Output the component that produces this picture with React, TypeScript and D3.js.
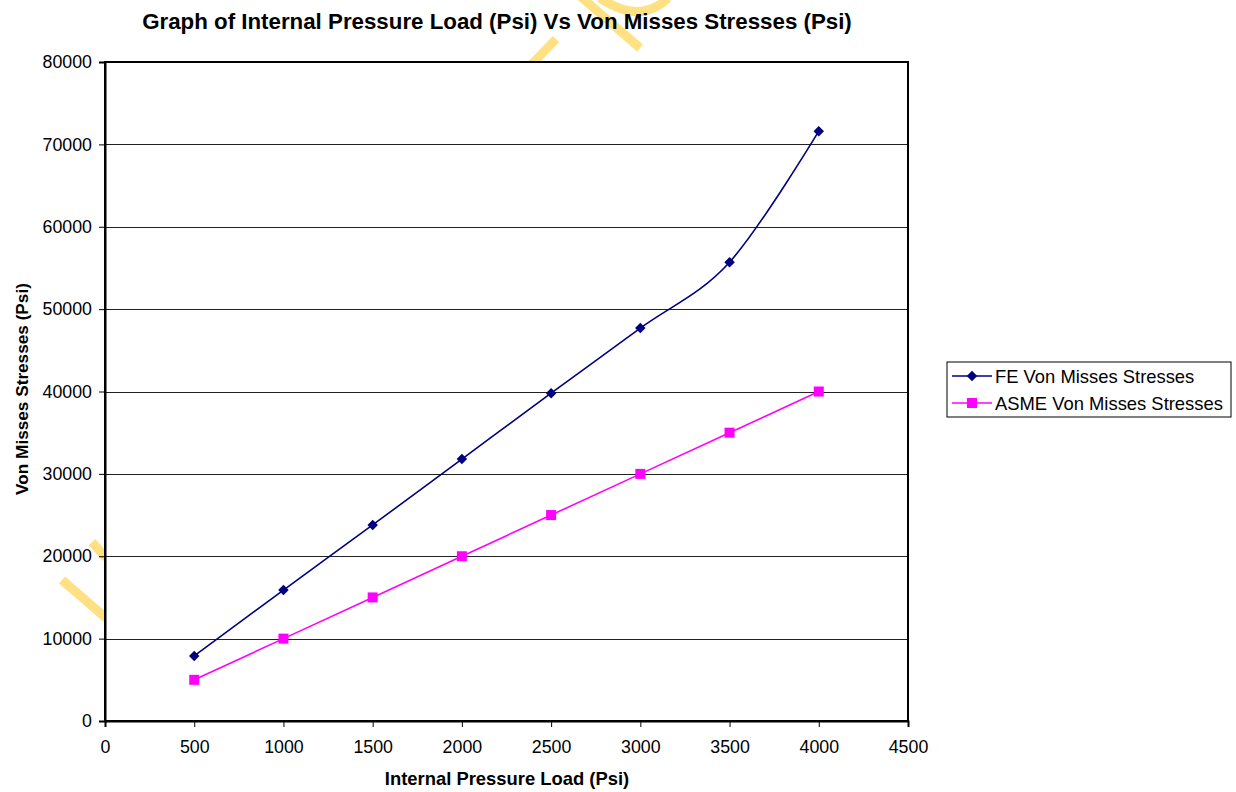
import React, { useEffect, useRef } from "react";
import * as d3 from "d3";

// data
const pressures = [500, 1000, 1500, 2000, 2500, 3000, 3500, 4000];
const feStress = [7900, 15900, 23800, 31800, 39800, 47700, 55700, 71600];
const asmeStress = [5000, 10000, 15000, 20000, 25000, 30000, 35000, 40000];
const xTicks = [0, 500, 1000, 1500, 2000, 2500, 3000, 3500, 4000, 4500];
const yTicks = [0, 10000, 20000, 30000, 40000, 50000, 60000, 70000, 80000];
const seriesNames = ["FE Von Misses Stresses", "ASME Von Misses Stresses"];

const FONT = "'Liberation Sans', Arial, sans-serif";

const App: React.FC = () => {
  const svgRef = useRef<SVGSVGElement>(null);

  useEffect(() => {
    if (!svgRef.current) return;
    const width = 1236;
    const height = 792;
    const margin = { top: 62, right: 328, bottom: 71, left: 105 };
    const innerW = width - margin.left - margin.right;
    const innerH = height - margin.top - margin.bottom;

    const svg = d3.select(svgRef.current);
    svg.selectAll("*").remove();
    svg.attr("width", width).attr("height", height);

    svg.append("rect").attr("width", width).attr("height", height).attr("fill", "#fff");

    // faint watermark fragments in the background
    const wm = svg.append("g").attr("stroke", "#FFE083").attr("stroke-width", 9).attr("fill", "none");
    wm.append("line").attr("x1", 530).attr("y1", 66).attr("x2", 556).attr("y2", 39);
    wm.append("line").attr("x1", 580).attr("y1", -4).attr("x2", 640).attr("y2", 48);
    wm.append("path").attr("d", "M600,-2 Q640,25 668,-2");
    wm.append("line").attr("x1", 92).attr("y1", 542).attr("x2", 106).attr("y2", 558);
    wm.append("line").attr("x1", 62).attr("y1", 580).attr("x2", 106).attr("y2", 618);

    const x = d3.scaleLinear().domain([0, 4500]).range([0, innerW]);
    const y = d3.scaleLinear().domain([0, 80000]).range([innerH, 0]);

    const g = svg.append("g").attr("transform", `translate(${margin.left},${margin.top})`);

    g.append("rect").attr("width", innerW).attr("height", innerH).attr("fill", "#fff");

    // gridlines
    g.append("g")
      .selectAll("line")
      .data(yTicks.filter(t => t > 0 && t < 80000))
      .enter()
      .append("line")
      .attr("x1", 0)
      .attr("x2", innerW)
      .attr("y1", d => Math.round(y(d)) + 0.5)
      .attr("y2", d => Math.round(y(d)) + 0.5)
      .attr("stroke", "#222")
      .attr("stroke-width", 1);

    // frame
    g.append("rect")
      .attr("width", innerW)
      .attr("height", innerH)
      .attr("fill", "none")
      .attr("stroke", "#000")
      .attr("stroke-width", 2);

    // axes
    const xAxis = g.append("g")
      .attr("transform", `translate(0,${innerH})`)
      .call(d3.axisBottom(x).tickValues(xTicks).tickSize(6).tickPadding(13).tickFormat(d3.format("d")));
    const yAxis = g.append("g")
      .call(d3.axisLeft(y).tickValues(yTicks).tickSize(6).tickPadding(7).tickFormat(d3.format("d")));
    [xAxis, yAxis].forEach(a => {
      a.attr("font-size", null).attr("font-family", null);
      a.select(".domain").attr("stroke", "#000").attr("stroke-width", 2);
      a.selectAll(".tick line").attr("stroke", "#000");
      a.selectAll(".tick text")
        .attr("fill", "#000")
        .style("font-family", FONT)
        .style("font-size", "17.8px");
    });

    const curve = d3.curveCardinal.tension(0);

    const feData = pressures.map((p, i) => [p, feStress[i]] as [number, number]);
    const asmeData = pressures.map((p, i) => [p, asmeStress[i]] as [number, number]);

    const line = d3.line<[number, number]>()
      .x(d => x(d[0]))
      .y(d => y(d[1]))
      .curve(curve);

    g.append("path")
      .attr("d", line(asmeData))
      .attr("fill", "none")
      .attr("stroke", "#FF00FF")
      .attr("stroke-width", 1.6);
    g.selectAll(".sq")
      .data(asmeData)
      .enter()
      .append("rect")
      .attr("x", d => x(d[0]) - 5)
      .attr("y", d => y(d[1]) - 5)
      .attr("width", 10)
      .attr("height", 10)
      .attr("fill", "#FF00FF");

    g.append("path")
      .attr("d", line(feData))
      .attr("fill", "none")
      .attr("stroke", "#000080")
      .attr("stroke-width", 1.6);
    const diamond = d3.symbol().type(d3.symbolDiamond2).size(70);
    g.selectAll(".dm")
      .data(feData)
      .enter()
      .append("path")
      .attr("d", diamond()!)
      .attr("transform", d => `translate(${x(d[0])},${y(d[1])})`)
      .attr("fill", "#000080");

    // titles
    svg.append("text")
      .attr("x", 497)
      .attr("y", 29)
      .attr("text-anchor", "middle")
      .style("font-family", FONT)
      .style("font-size", "22.3px")
      .style("font-weight", "bold")
      .text("Graph of Internal Pressure Load (Psi) Vs Von Misses Stresses (Psi)");

    svg.append("text")
      .attr("x", 507)
      .attr("y", 785)
      .attr("text-anchor", "middle")
      .style("font-family", FONT)
      .style("font-size", "18.4px")
      .style("font-weight", "bold")
      .text("Internal Pressure Load (Psi)");

    svg.append("text")
      .attr("transform", `translate(28,389) rotate(-90)`)
      .attr("text-anchor", "middle")
      .style("font-family", FONT)
      .style("font-size", "17.2px")
      .style("font-weight", "bold")
      .text("Von Misses Stresses (Psi)");

    // legend
    const lg = svg.append("g").attr("transform", "translate(947,362)");
    lg.append("rect")
      .attr("width", 284)
      .attr("height", 55)
      .attr("fill", "#fff")
      .attr("stroke", "#000")
      .attr("stroke-width", 1);
    const colors = ["#000080", "#FF00FF"];
    seriesNames.forEach((name, i) => {
      const cy = 14 + i * 27;
      lg.append("line")
        .attr("x1", 5)
        .attr("x2", 45)
        .attr("y1", cy)
        .attr("y2", cy)
        .attr("stroke", colors[i])
        .attr("stroke-width", 1.6);
      if (i === 0) {
        lg.append("path")
          .attr("d", diamond()!)
          .attr("transform", `translate(25,${cy})`)
          .attr("fill", colors[i]);
      } else {
        lg.append("rect")
          .attr("x", 20)
          .attr("y", cy - 5)
          .attr("width", 10)
          .attr("height", 10)
          .attr("fill", colors[i]);
      }
      lg.append("text")
        .attr("x", 48)
        .attr("y", cy + 6.5)
        .style("font-family", FONT)
        .style("font-size", "18.4px")
        .attr("fill", "#000")
        .text(name);
    });
  }, []);

  return (
    <svg
      ref={svgRef}
      style={{ position: "absolute", left: 0, top: 0, display: "block" }}
    ></svg>
  );
};

export default App;
